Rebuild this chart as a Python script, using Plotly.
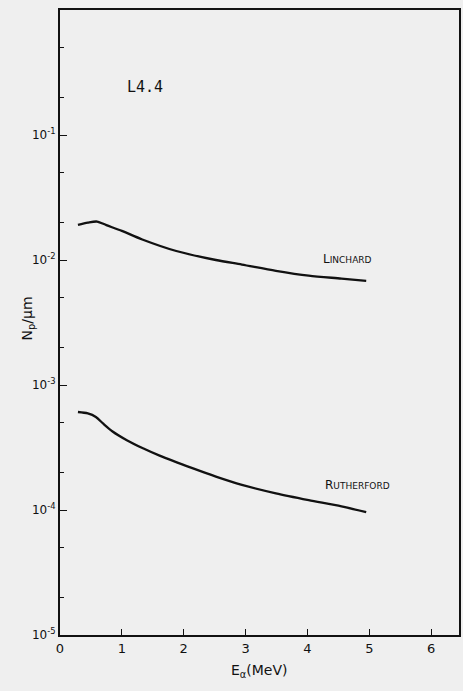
import plotly.graph_objects as go

# Data
lind_E = [0.29, 0.45, 0.60, 0.75, 1.00, 1.33, 1.88, 2.52, 2.94, 3.49, 4.02, 4.55, 4.95]
lind_N = [0.0191, 0.0199, 0.0203, 0.0190, 0.0171, 0.0146, 0.0118, 0.0100, 0.0092, 0.0082, 0.0075, 0.0071, 0.0068]

ruth_E = [0.29, 0.45, 0.58, 0.70, 0.85, 1.08, 1.35, 1.61, 2.14, 2.52, 2.94, 3.49, 4.02, 4.55, 4.95]
ruth_N = [6.08e-4, 5.92e-4, 5.55e-4, 4.90e-4, 4.25e-4, 3.62e-4, 3.10e-4, 2.72e-4, 2.16e-4,
          1.85e-4, 1.59e-4, 1.36e-4, 1.20e-4, 1.07e-4, 9.6e-5]

x_ticks = [0, 1, 2, 3, 4, 5, 6]
y_ticks = [1e-5, 1e-4, 1e-3, 1e-2, 1e-1]
y_ticktext = ["10<sup>-5</sup>", "10<sup>-4</sup>", "10<sup>-3</sup>", "10<sup>-2</sup>", "10<sup>-1</sup>"]
y_minor = [2e-5, 5e-5, 2e-4, 5e-4, 2e-3, 5e-3, 2e-2, 5e-2, 2e-1, 5e-1]

BG = "#efefef"
FONT = "DejaVu Sans"

fig = go.Figure()
fig.add_trace(go.Scatter(x=lind_E, y=lind_N, mode="lines",
                         line=dict(color="#111111", width=2.3, shape="spline", smoothing=0.8),
                         showlegend=False))
fig.add_trace(go.Scatter(x=ruth_E, y=ruth_N, mode="lines",
                         line=dict(color="#111111", width=2.3, shape="spline", smoothing=0.8),
                         showlegend=False))

fig.update_layout(
    width=463, height=691,
    margin=dict(l=60, r=2, t=10, b=56),
    paper_bgcolor=BG, plot_bgcolor=BG,
    font=dict(family=FONT, color="#111111", size=11),
    xaxis=dict(range=[0, 6.45], tickvals=x_ticks, ticks="inside", ticklen=6,
               tickcolor="#111111", showgrid=False, zeroline=False,
               showline=True, linecolor="#111111", linewidth=2, mirror=True,
               tickfont=dict(size=13, family=FONT)),
    yaxis=dict(type="log", range=[-5, 0], tickvals=y_ticks, ticktext=y_ticktext,
               ticks="inside", ticklen=7, tickcolor="#111111", showgrid=False,
               zeroline=False, showline=True, linecolor="#111111", linewidth=2,
               mirror=True, tickfont=dict(size=12, family=FONT),
               minor=dict(tickvals=y_minor, ticks="inside", ticklen=4,
                          tickcolor="#111111", showgrid=False)),
)

fig.add_annotation(x=1.37, y=-0.615, xref="x", yref="y", text="L4.4",
                   showarrow=False, font=dict(size=15, family="DejaVu Sans Mono"))
fig.add_annotation(x=4.65, y=-1.99, xref="x", yref="y",
                   text="L<span style='font-size:9px'>INCHARD</span>",
                   showarrow=False, font=dict(size=12, family=FONT))
fig.add_annotation(x=4.81, y=-3.80, xref="x", yref="y",
                   text="R<span style='font-size:9px'>UTHERFORD</span>",
                   showarrow=False, font=dict(size=12, family=FONT))
fig.add_annotation(x=-0.107, y=0.507, xref="paper", yref="paper",
                   text="N<sub>p</sub>/μm", textangle=-90, showarrow=False,
                   font=dict(size=14, family=FONT))
fig.add_annotation(x=0.5, y=-0.075, xref="paper", yref="paper",
                   text="E<sub>α</sub>(MeV)", showarrow=False,
                   font=dict(size=14, family=FONT))

fig.write_html("out.html")
